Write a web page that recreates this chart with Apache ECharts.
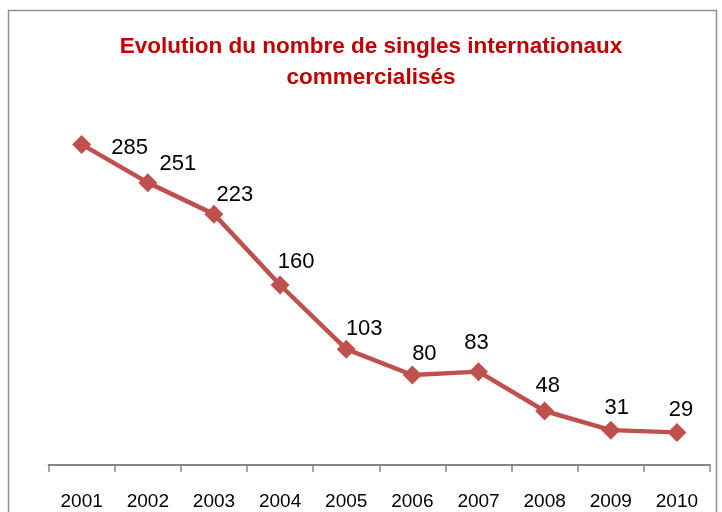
<!DOCTYPE html>
<html><head><meta charset="utf-8">
<script src="https://cdn.jsdelivr.net/npm/echarts@6/dist/echarts.min.js"></script>
<style>html,body{margin:0;padding:0;background:#fff}#c{width:722px;height:512px}</style>
</head><body><div id="c"></div>
<script>
const categories = ['2001','2002','2003','2004','2005','2006','2007','2008','2009','2010'];
const singles = [285, 251, 223, 160, 103, 80, 83, 48, 31, 29];
const titleText = 'Evolution du nombre de singles internationaux\ncommercialisés';

const chart = echarts.init(document.getElementById('c'), null, {renderer: 'canvas'});
const labelShift = [[48, 4], [30, -19], [21, -19], [16, -23], [18, -20], [12, -21], [-2, -29], [3, -25], [6, -22], [4, -22]];
chart.setOption({
  animation: false,
  backgroundColor: '#ffffff',
  title: {
    text: titleText,
    left: 366, top: 26, textAlign: 'center',
    textStyle: {color: '#C00000', fontSize: 22.5, fontWeight: 'bold', fontFamily: 'Liberation Sans', lineHeight: 31}
  },
  graphic: [{
    type: 'rect', shape: {x: 8.5, y: 10.5, width: 708, height: 520},
    style: {fill: 'none', stroke: '#8f8f8f', lineWidth: 1.5}, silent: true
  }],
  grid: {left: 48.6, right: 12, top: 127.5, bottom: 47},
  xAxis: {
    type: 'category', data: categories, boundaryGap: true,
    axisLine: {lineStyle: {color: '#868686', width: 2}},
    axisTick: {show: true, length: 7, lineStyle: {color: '#868686', width: 1.5}},
    axisLabel: {margin: 27, color: '#000', fontSize: 19, fontFamily: 'Liberation Sans'}
  },
  yAxis: {
    type: 'value', min: 0, max: 300, show: false,
    splitLine: {show: false}
  },
  series: [{
    type: 'line', data: singles.map((v, i) => ({
      value: v,
      label: {offset: labelShift[i]}
    })),
    lineStyle: {color: '#C0504D', width: 4.5},
    itemStyle: {color: '#C0504D'},
    symbol: 'diamond', symbolSize: 19,
    label: {
      show: true, position: 'inside', align: 'center', verticalAlign: 'middle',
      color: '#000', fontSize: 22, fontFamily: 'Liberation Sans'
    }
  }]
});
</script></body></html>
